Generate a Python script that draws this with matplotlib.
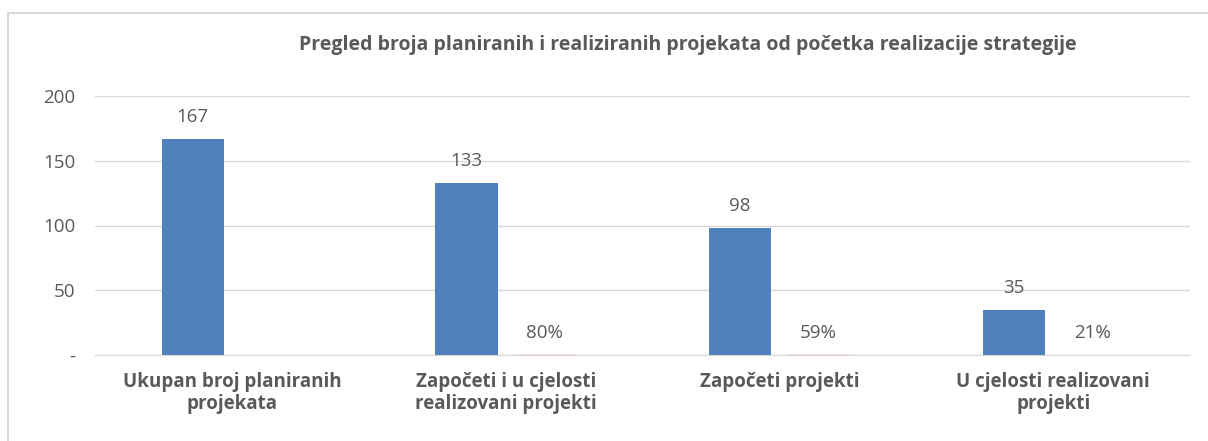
import numpy as np
import matplotlib.pyplot as plt
from matplotlib.patches import Rectangle

# podaci
kategorije = ['Ukupan broj planiranih\nprojekata', 'Započeti i u cjelosti\nrealizovani projekti',
              'Započeti projekti', 'U cjelosti realizovani\nprojekti']
broj_projekata = [167, 133, 98, 35]
procenat = [np.nan, 0.80, 0.59, 0.21]
procenat_labele = ['', '80%', '59%', '21%']
y_ticks = [0, 50, 100, 150, 200]
y_tick_labele = ['-', '50', '100', '150', '200']

plt.rcParams['font.family'] = ['Open Sans', 'DejaVu Sans']
siva = '#595959'

fig = plt.figure(figsize=(12.08, 4.41), dpi=100)
ax = fig.add_axes([95 / 1208, 1 - 355 / 441, 1095 / 1208, 259 / 441])

x = np.arange(len(kategorije))
w = 0.227
off = 0.143
ax.bar(x - off, broj_projekata, w, color='#4f81bd', zorder=3)
ax.bar(x + off, procenat, w, color='#f2dcdb', zorder=3)

for xi, v in zip(x, broj_projekata):
    ax.text(xi - off, v + 10, str(v), ha='center', va='bottom', fontsize=13.5, color=siva)
for xi, lab in zip(x, procenat_labele):
    if lab:
        ax.text(xi + off, 10, lab, ha='center', va='bottom', fontsize=13.5, color=siva)

ax.set_xlim(-0.5, len(kategorije) - 0.5)
ax.set_ylim(0, 200)
ax.set_yticks(y_ticks)
ax.set_yticklabels(y_tick_labele, fontsize=13.5, color=siva)
ax.set_xticks(x)
ax.set_xticklabels(kategorije, fontsize=13.5, color=siva, fontweight='bold', linespacing=1.15)
ax.tick_params(length=0, pad=12)
ax.tick_params(axis='y', pad=14)
ax.grid(axis='y', color='#d9d9d9', linewidth=1, zorder=0)
for s in ['top', 'right', 'left']:
    ax.spines[s].set_visible(False)
ax.spines['bottom'].set_color('#d9d9d9')

fig.text(688 / 1208, 1 - 45 / 441, 'Pregled broja planiranih i realiziranih projekata od početka realizacije strategije',
         ha='center', va='center', fontsize=14, fontweight='bold', color=siva)

fig.patches.append(Rectangle((8 / 1208, -0.1), 1.2, 1 - 13 / 441 + 0.1, transform=fig.transFigure,
                             fill=False, edgecolor='#d9d9d9', linewidth=1.5))

fig.savefig('out.png', dpi=100)
